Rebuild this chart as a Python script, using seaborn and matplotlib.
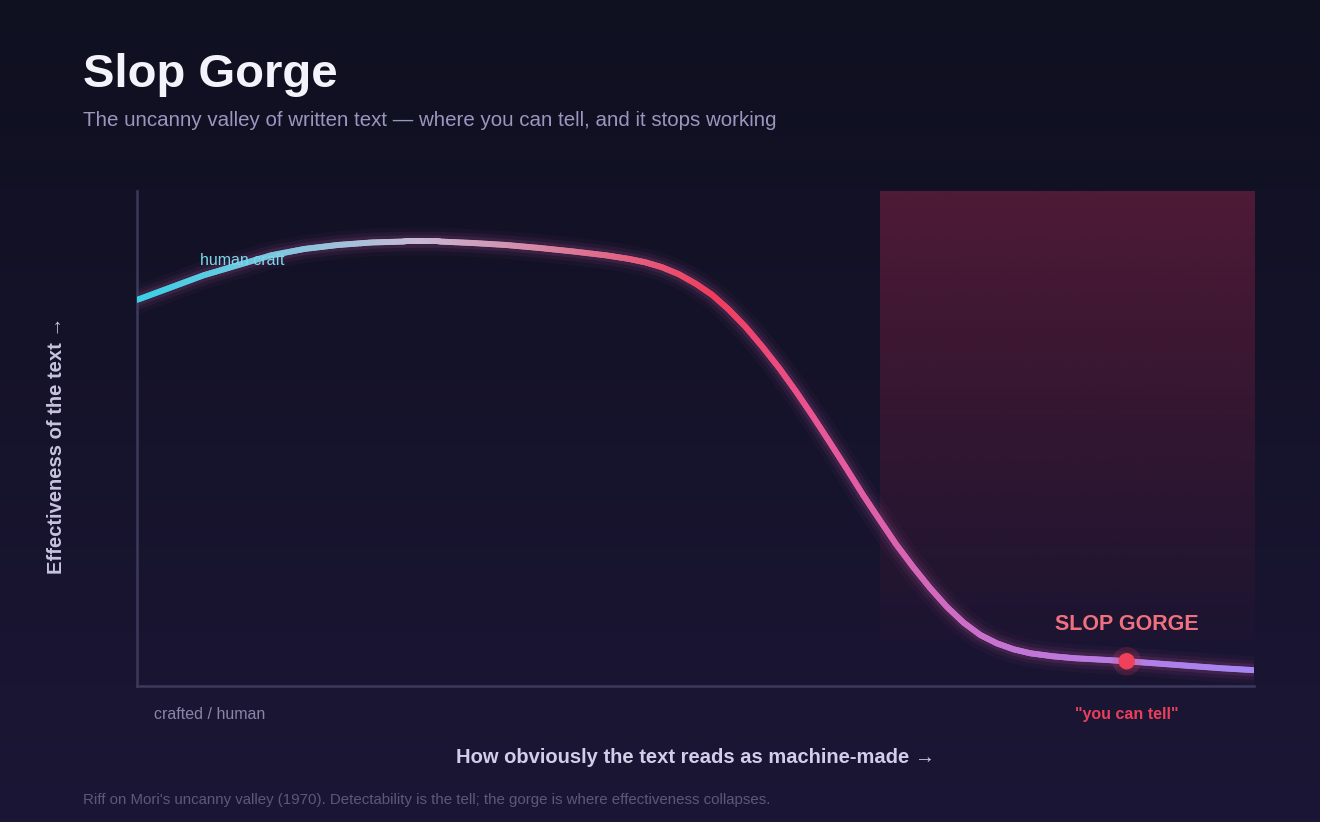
import numpy as np
import matplotlib
matplotlib.use("Agg")
import matplotlib.pyplot as plt
import seaborn as sns
import pandas as pd
from matplotlib.collections import LineCollection
from matplotlib.colors import LinearSegmentedColormap, to_rgb

# data (x: how machine-made, y: effectiveness, both 0-100)
detectability = [0, 3, 6, 9, 12, 15, 18, 21, 24, 27, 30, 33, 36, 39, 42, 44, 45.5, 47,
                 48.5, 50, 51.5, 53, 54.5, 56, 57.5, 59, 60.5, 62, 63.5, 65, 66.5, 68,
                 69.5, 71, 72.5, 74, 75.5, 77, 78.5, 80, 82, 84, 86.5, 88.6, 91, 94, 97, 100]
effectiveness = [78, 80.5, 83, 85, 87, 88.3, 89.1, 89.6, 89.8, 89.8, 89.5, 89.1, 88.5,
                 87.8, 87.0, 86.3, 85.6, 84.6, 83.2, 81.3, 79, 76, 72.5, 68.5, 64.2, 59.5,
                 54.5, 49.3, 44, 38.6, 33.5, 28.5, 24, 19.8, 16, 12.8, 10.3, 8.6, 7.4,
                 6.6, 6, 5.6, 5.3, 5, 4.6, 4.1, 3.6, 3.2]
gorge_start = 66.5
gorge_x = 88.6
gorge_y = 5

df = pd.DataFrame({"x": detectability, "y": effectiveness})

sns.set_theme(style="dark")
plt.rcParams["font.family"] = ["Liberation Sans", "Inter", "DejaVu Sans"]

fig = plt.figure(figsize=(13.2, 8.22), dpi=100)

# background gradient
bg = fig.add_axes([0, 0, 1, 1], zorder=-2)
top_c = np.array(to_rgb("#0f1020"))
bot_c = np.array(to_rgb("#1c1636"))
t = np.linspace(0, 1, 256)[:, None]
grad = top_c * (1 - t) + bot_c * t
bg.imshow(grad[:, None, :], aspect="auto", extent=[0, 1, 0, 1])
bg.axis("off")

ax = fig.add_axes([137 / 1320, 1 - 686 / 822, 1117 / 1320, 495 / 822])
ax.set_facecolor("none")
ax.set_xlim(0, 100)
ax.set_ylim(0, 100)

# gorge shading
shade = np.zeros((256, 1, 4))
shade[:, 0, :3] = to_rgb("#5a1c3a")
shade[:, 0, 3] = np.linspace(0.85, 0.05, 256)
ax.imshow(shade, aspect="auto", extent=[gorge_start, 100, 9, 100], zorder=1)

# glow under curve
for lw, a in [(20, 0.04), (14, 0.07), (9, 0.12)]:
    sns.lineplot(data=df, x="x", y="y", color="#d060b0", lw=lw, alpha=a, ax=ax,
                 zorder=2, solid_capstyle="round")

# gradient curve: same polyline, each straight piece split finely just for colour
cmap = LinearSegmentedColormap.from_list("slop", [
    (0.0, "#38d0e6"), (0.25, "#c6bad6"), (0.42, "#e06a8a"), (0.52, "#f03c5c"),
    (0.62, "#e8589a"), (0.78, "#c474d4"), (1.0, "#a486f4")])
pts = np.column_stack([detectability, effectiveness])
segs = []
for p0, p1 in zip(pts[:-1], pts[1:]):
    f = np.linspace(0, 1, 13)[:, None]
    sub = p0 + (p1 - p0) * f
    segs.extend(np.stack([sub[:-1], sub[1:]], axis=1))
segs = np.array(segs)
mids = segs[:, :, 0].mean(axis=1) / 100
lc = LineCollection(segs, colors=cmap(mids), linewidths=4.3, capstyle="round", zorder=3)
ax.add_collection(lc)

# gorge point
sns.scatterplot(x=[gorge_x], y=[gorge_y], s=420, color="#f0405a", alpha=0.18,
                edgecolor="none", ax=ax, zorder=4)
sns.scatterplot(x=[gorge_x], y=[gorge_y], s=140, color="#f0405a", edgecolor="none",
                ax=ax, zorder=5)

ax.text(gorge_x, 12.5, "SLOP GORGE", color="#f07080", fontsize=15.5, fontweight="bold",
        ha="center", va="center", zorder=6)
ax.text(5.6, 85.9, "human craft", color="#7ad8e8", fontsize=11.5, ha="left",
        va="center", zorder=6)

for s in ["top", "right"]:
    ax.spines[s].set_visible(False)
for s in ["left", "bottom"]:
    ax.spines[s].set_visible(True)
    ax.spines[s].set_color("#3c3a5c")
    ax.spines[s].set_linewidth(1.8)
ax.set_xticks([])
ax.set_yticks([])
ax.set_xlabel("")
ax.set_ylabel("")
ax.grid(False)

fig.text(83 / 1320, 1 - 75 / 822, "Slop Gorge", color="#f4f2fa", fontsize=34,
         fontweight="bold", va="center", ha="left")
fig.text(83 / 1320, 1 - 121 / 822,
         "The uncanny valley of written text \u2014 where you can tell, and it stops working",
         color="#9b96c0", fontsize=14.8, va="center", ha="left")
fig.text(154 / 1320, 1 - 714 / 822, "crafted / human", color="#8a85a8", fontsize=11.5,
         va="center", ha="left")
fig.text(1127 / 1320, 1 - 714 / 822, "\"you can tell\"", color="#e8405c", fontsize=11.5,
         fontweight="bold", va="center", ha="center")
fig.text(695 / 1320, 1 - 757 / 822, "How obviously the text reads as machine-made \u2192",
         color="#d2cee8", fontsize=14.5, fontweight="bold", va="center", ha="center")
fig.text(57 / 1320, 1 - 445 / 822, "Effectiveness of the text \u2192", color="#c8c4e0",
         fontsize=14.5, fontweight="bold", va="center", ha="center", rotation=90)
fig.text(83 / 1320, 1 - 800 / 822,
         "Riff on Mori's uncanny valley (1970). Detectability is the tell; the gorge is where effectiveness collapses.",
         color="#5c587a", fontsize=10.8, va="center", ha="left")

fig.savefig("out.png", dpi=100)
